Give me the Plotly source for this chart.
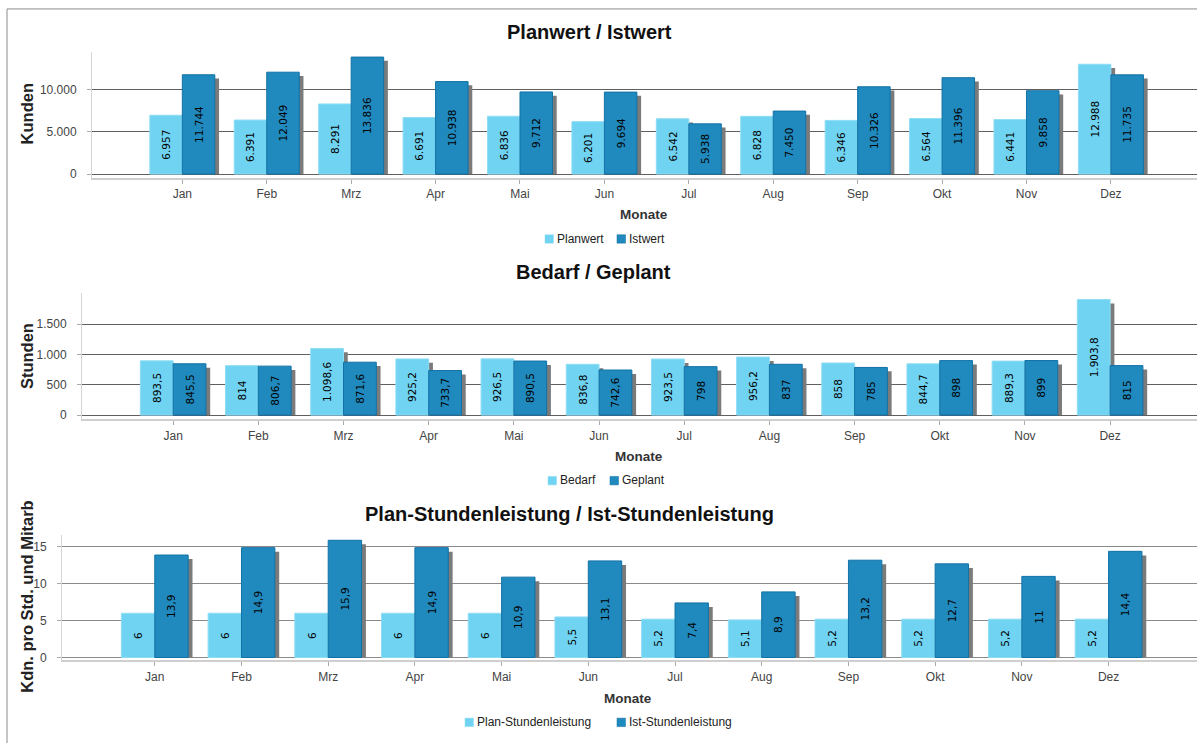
import plotly.graph_objects as go

# ---------------- data ----------------
months = ["Jan", "Feb", "Mrz", "Apr", "Mai", "Jun", "Jul", "Aug", "Sep", "Okt", "Nov", "Dez"]

planwert = [6957, 6391, 8291, 6691, 6836, 6201, 6542, 6828, 6346, 6564, 6441, 12988]
istwert = [11744, 12049, 13836, 10938, 9712, 9694, 5938, 7450, 10326, 11396, 9858, 11735]

bedarf = [893.5, 814, 1098.6, 925.2, 926.5, 836.8, 923.5, 956.2, 858, 844.7, 889.3, 1903.8]
geplant = [845.5, 806.7, 871.6, 733.7, 890.5, 742.6, 798, 837, 785, 898, 899, 815]

plan_std = [6, 6, 6, 6, 6, 5.5, 5.2, 5.1, 5.2, 5.2, 5.2, 5.2]
ist_std = [13.9, 14.9, 15.9, 14.9, 10.9, 13.1, 7.4, 8.9, 13.2, 12.7, 11, 14.4]

titles = ["Planwert / Istwert", "Bedarf / Geplant", "Plan-Stundenleistung / Ist-Stundenleistung"]
ytitles = ["Kunden", "Stunden", "Kdn. pro Std. und Mitarb"]
xtitle = "Monate"
series_names = [("Planwert", "Istwert"), ("Bedarf", "Geplant"),
                ("Plan-Stundenleistung", "Ist-Stundenleistung")]

# ---------------- style ----------------
W, H = 1197, 747
LIGHT = "#70D3F2"
LIGHT_EDGE = "#8EDDF5"
DARK = "#2089BD"
DARK_EDGE = "#1272A6"
SHADOW = "#7B7B7B"
FONT = "Liberation Sans"


def de(v):
    if float(v).is_integer():
        s = f"{int(v):,}"
    else:
        s = f"{v:,.1f}"
    return s.replace(",", "X").replace(".", ",").replace("X", ".")


def px_x(p):
    return p / W


def px_y(p):
    return 1 - p / H


panels = [
    dict(a=planwert, b=istwert, xdom=(92, W), ydom=(52, 178.5), yr=(-412, 14470),
         tv=[0, 5000, 10000], grid="#5f5f5f", shadow_d=440,
         title_xy=(589, 32), xt_xy=(644, 216), yt_y=115,
         leg_y=240, leg_x=(545, 617)),
    dict(a=bedarf, b=geplant, xdom=(82, W), ydom=(295, 421.7), yr=(-72, 2005),
         tv=[0, 500, 1000, 1500], grid="#5f5f5f", shadow_d=64,
         title_xy=(593, 273), xt_xy=(639, 459), yt_y=358,
         leg_y=483, leg_x=(548, 610)),
    dict(a=plan_std, b=ist_std, xdom=(62, W), ydom=(538, 664), yr=(-0.4, 16.6),
         tv=[0, 5, 10, 15], grid="#8a8a8a", shadow_d=0.55,
         title_xy=(569, 517), xt_xy=(628, 702), yt_y=600,
         leg_y=726, leg_x=(465, 617)),
]

BW = 0.385      # bar width (category units)
SH = 0.05       # shadow horizontal offset

fig = go.Figure()
annotations = []
shapes = []
layout_axes = {}

for i, p in enumerate(panels):
    n = "" if i == 0 else str(i + 1)
    xa, ya = "x" + n, "y" + n
    na, nb = series_names[i]
    d = p["shadow_d"]

    # light shadow
    fig.add_trace(go.Bar(x=months, y=[v - d for v in p["a"]], xaxis=xa, yaxis=ya,
                         width=BW, offset=-BW + SH, marker=dict(color=SHADOW, line=dict(width=0)),
                         showlegend=False, hoverinfo="skip"))
    # light bars
    fig.add_trace(go.Bar(x=months, y=p["a"], xaxis=xa, yaxis=ya, name=na, showlegend=False,
                         width=BW, offset=-BW,
                         marker=dict(color=LIGHT, line=dict(color=LIGHT_EDGE, width=1)),
                         text=[de(v) for v in p["a"]], textposition="inside",
                         insidetextanchor="middle", textangle=-90,
                         textfont=dict(family="DejaVu Sans", size=10.5, color="#000000"),
                         constraintext="none"))
    # dark shadow
    fig.add_trace(go.Bar(x=months, y=[v - d for v in p["b"]], xaxis=xa, yaxis=ya,
                         width=BW, offset=SH, marker=dict(color=SHADOW, line=dict(width=0)),
                         showlegend=False, hoverinfo="skip"))
    # dark bars
    fig.add_trace(go.Bar(x=months, y=p["b"], xaxis=xa, yaxis=ya, name=nb, showlegend=False,
                         width=BW, offset=0,
                         marker=dict(color=DARK, line=dict(color=DARK_EDGE, width=1)),
                         text=[de(v) for v in p["b"]], textposition="inside",
                         insidetextanchor="middle", textangle=-90,
                         textfont=dict(family="DejaVu Sans", size=10.5, color="#000000"),
                         constraintext="none"))

    xkey = "xaxis" + n
    ykey = "yaxis" + n
    layout_axes[xkey] = dict(
        domain=[px_x(p["xdom"][0]), px_x(p["xdom"][1])],
        anchor=ya, type="category", range=[-1.07, 12.02],
        showline=True, linecolor="#cfcfcf", linewidth=2,
        ticks="outside", ticklen=4, tickcolor="#aaaaaa", tickwidth=1,
        showgrid=False, zeroline=False,
        tickfont=dict(family=FONT, size=12, color="#444444"),
        ticklabelstandoff=0,
    )
    layout_axes[ykey] = dict(
        domain=[px_y(p["ydom"][1]), px_y(p["ydom"][0])],
        anchor=xa, range=list(p["yr"]), tickvals=p["tv"], tickformat=",d",
        showline=True, linecolor="#d5d5d5", linewidth=1,
        ticks="outside", ticklen=4, tickcolor="#aaaaaa",
        showgrid=True, gridcolor=p["grid"], gridwidth=1,
        zeroline=True, zerolinecolor=p["grid"], zerolinewidth=1,
        tickfont=dict(family=FONT, size=12, color="#444444"),
        ticklabelstandoff=8,
    )

    # legend built from squares + text
    ly = p["leg_y"]
    for lx, col, edge, name in [(p["leg_x"][0], LIGHT, LIGHT_EDGE, na),
                                (p["leg_x"][1], DARK, DARK_EDGE, nb)]:
        shapes.append(dict(type="rect", xref="paper", yref="paper",
                           x0=px_x(lx), x1=px_x(lx + 8.5), y0=px_y(ly + 4.5), y1=px_y(ly - 4),
                           fillcolor=col, line=dict(color=edge, width=0.5)))
        annotations.append(dict(text=name, x=px_x(lx + 10), y=px_y(ly), xref="paper", yref="paper",
                                showarrow=False, xanchor="left", yanchor="middle",
                                font=dict(family=FONT, size=12, color="#222222")))

    annotations.append(dict(text=titles[i], x=px_x(p["title_xy"][0]), y=px_y(p["title_xy"][1]),
                            xref="paper", yref="paper", showarrow=False,
                            xanchor="center", yanchor="middle",
                            font=dict(family=FONT, size=20, color="#111111", weight="bold")))
    annotations.append(dict(text=xtitle, x=px_x(p["xt_xy"][0]), y=px_y(p["xt_xy"][1]),
                            xref="paper", yref="paper", showarrow=False,
                            xanchor="center", yanchor="middle",
                            font=dict(family=FONT, size=13.5, color="#333333", weight="bold")))
    annotations.append(dict(text=ytitles[i], x=px_x(27), y=px_y(p["yt_y"]),
                            xref="paper", yref="paper", showarrow=False, textangle=-90,
                            xanchor="center", yanchor="middle",
                            font=dict(family=FONT, size=16.5, color="#222222", weight="bold")))

shapes += [
    dict(type="line", xref="paper", yref="paper", x0=px_x(7), x1=px_x(7), y0=0, y1=px_y(9),
         line=dict(color="#8c8c8c", width=1)),
    dict(type="line", xref="paper", yref="paper", x0=px_x(7), x1=1, y0=px_y(9), y1=px_y(9),
         line=dict(color="#8c8c8c", width=1)),
]

fig.update_layout(
    width=W, height=H,
    margin=dict(l=0, r=0, t=0, b=0),
    paper_bgcolor="white", plot_bgcolor="white",
    barmode="overlay",
    separators=",.",
    showlegend=False,
    annotations=annotations,
    shapes=shapes,
    **layout_axes,
)

fig.write_html("out.html", config={"displayModeBar": False},
               post_script="document.body.style.margin='0px';document.body.style.overflow='hidden';")
